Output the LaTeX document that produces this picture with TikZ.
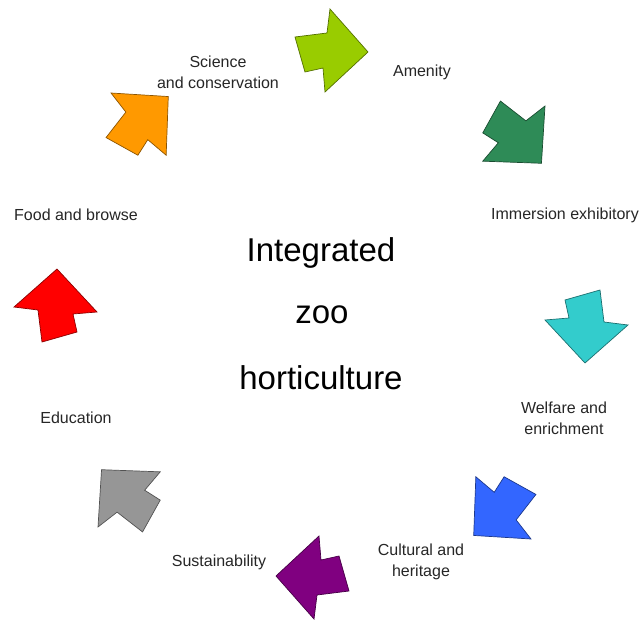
\documentclass[tikz,border=0pt]{standalone}
\usepackage{fontspec}
\setmainfont{Liberation Sans}
\definecolor{cLime}{HTML}{99CC00}
\definecolor{cSea}{HTML}{2E8B57}
\definecolor{cTeal}{HTML}{33CCCC}
\definecolor{cBlue}{HTML}{3366FF}
\definecolor{cPurple}{HTML}{800080}
\definecolor{cGray}{HTML}{969696}
\definecolor{cRed}{HTML}{FF0000}
\definecolor{cOrange}{HTML}{FF9900}
\tikzset{
  lbl/.style={font=\fontsize{16}{21}\selectfont, text=black!85, align=center, inner sep=0pt},
  big/.style={font=\fontsize{33}{36}\selectfont, text=black, inner sep=0pt},
}
\begin{document}
\begin{tikzpicture}[x=1pt,y=-1pt]
\useasboundingbox (0,0) rectangle (641,623);
\foreach \cx/\cy/\r/\col in {330/50/0/cLime, 516/135/-45/cSea, 587/325/-90/cTeal, 502/510/-135/cBlue, 314/578/-180/cPurple, 127/498/-225/cGray, 55/307/-270/cRed, 140/122/-315/cOrange}{
  \filldraw[fill=\col, draw=\col!55!black, line width=0.7pt, line join=miter, shift={(\cx,\cy)}, rotate=\r]
    (-35,-13) -- (-3,-17) -- (0,-41) -- (38,2) -- (-5,42) -- (-7,18) -- (-25,22) -- cycle;
}
\node[lbl] (sci) at (218,72) {Science\\ and conservation};
\node[lbl] (ame) at (422,72) {Amenity};
\node[lbl] (imm) at (565,215) {Immersion exhibitory};
\node[lbl] (wel) at (564,418) {Welfare and\\ enrichment};
\node[lbl] (cul) at (421,562) {Cultural and\\ heritage};
\node[lbl] (sus) at (219,562) {Sustainability};
\node[lbl] (edu) at (76,418) {Education};
\node[lbl] (foo) at (76,215) {Food and browse};
\node[big] (t1) at (321,253) {Integrated};
\node[big] (t2) at (322,315) {zoo};
\node[big] (t3) at (321,378) {horticulture};
\end{tikzpicture}
\end{document}
